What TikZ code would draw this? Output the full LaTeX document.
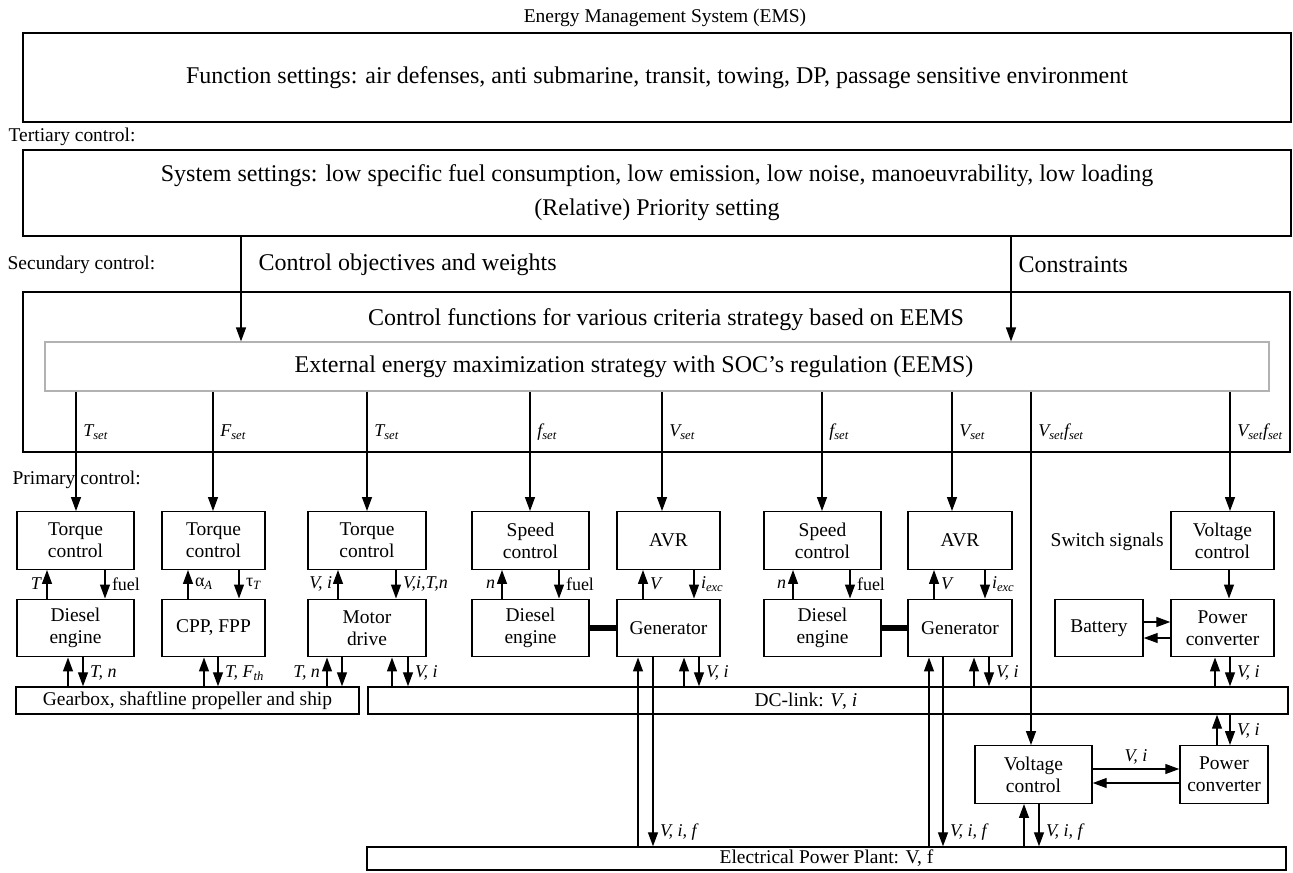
\documentclass[tikz,border=0pt]{standalone}
\usepackage{fontspec}
\setmainfont{Liberation Serif}
\usetikzlibrary{arrows.meta}

\def\pxl{0.75pt}
\newcommand{\fbig}{\fontsize{18}{25.5}\selectfont}
\newcommand{\fsm}{\fontsize{14.6}{16.5}\selectfont}
\newcommand{\sv}[2]{\textit{#1}\textsubscript{\textit{#2}}}

\begin{document}
\begin{tikzpicture}[x=\pxl,y=-\pxl,line width=1pt,>={Triangle[length=10.5pt,width=7.5pt]}]
    \tikzstyle{block}=[draw,line width=1.1pt,rectangle,inner sep=0pt,minimum height=57.5*\pxl,align=center,font=\fsm]
    \tikzstyle{bar}=[draw,line width=1.1pt,rectangle,inner sep=0pt,align=center,font=\fsm]
    \tikzstyle{lbl}=[inner sep=1pt,font=\fontsize{13.5}{15}\selectfont\itshape]
    \tikzstyle{note}=[inner sep=0pt,font=\fsm]

    \useasboundingbox (0,0) rectangle (1293,872);

    \node[note] (title) at (665,18) {Energy Management System (EMS)};
    \node[bar, font=\fbig, minimum width=1268*\pxl, minimum height=89*\pxl] (func) at (657,77.5)
        {Function settings: air defenses, anti submarine, transit, towing, DP, passage sensitive environment};
    \node[note, anchor=west] (tert) at (8,137) {Tertiary control:};
    \node[bar, font=\fbig, minimum width=1268*\pxl, minimum height=86*\pxl] (sys) at (657,193)
        {System settings: low specific fuel consumption, low emission, low noise, manoeuvrability, low loading\\(Relative) Priority setting};
    \node[note, anchor=west] (secu) at (7,265) {Secundary control:};
    \node[note, font=\fbig, anchor=west] (objtxt) at (258,265) {Control objectives and weights};
    \node[note, font=\fbig, anchor=west] (contxt) at (1018,265) {Constraints};
    \node[bar, minimum width=1267*\pxl, minimum height=160*\pxl] (ctrl) at (656.5,372) {};
    \node[note, font=\fbig] (ctrltxt) at (666,320) {Control functions for various criteria strategy based on EEMS};
    \node[bar, draw=black!30, line width=0.9pt, minimum width=1224*\pxl, minimum height=49*\pxl] (eems) at (657,366.5) {};
    \node[note, font=\fbig] (eemstxt) at (634,367) {External energy maximization strategy with SOC's regulation (EEMS)};
    \node[note, anchor=west] (prim) at (12,480) {Primary control:};

    \foreach \name/\x/\w/\txt in {TC-1/75.5/117/{Torque\\control}, TC-2/213.5/103/{Torque\\control}, TC-3/367/118/{Torque\\control}, SC-1/530.5/117/{Speed\\control}, AVR-1/668.5/103/AVR, SC-2/822.5/117/{Speed\\control}, AVR-2/960/104/AVR, VC-1/1222.5/103/{Voltage\\control}}
        \node[block, minimum width=\w*\pxl] (\name) at (\x,540.5) {\txt};

    \foreach \name/\x/\w/\txt in {DE-1/75.5/117/{Diesel\\engine}, CPP/213.5/103/{CPP, FPP}, MD/367/118/{Motor\\drive}, DE-2/530.5/117/{Diesel\\engine}, GEN-1/668.5/103/Generator, DE-3/822.5/117/{Diesel\\engine}, GEN-2/960/104/Generator, BAT/1099/88/Battery, PC-1/1222.5/103/{Power\\converter}}
        \node[block, minimum width=\w*\pxl] (\name) at (\x,628) {\txt};

    \node[note, anchor=west] (switch) at (1050,542) {Switch signals};
    \node[bar, minimum width=343*\pxl, minimum height=27*\pxl] (gear) at (187.5,700.5) {Gearbox, shaftline propeller and ship};
    \node[bar, minimum width=920*\pxl, minimum height=27*\pxl] (dc) at (828,700.5) {};
    \node[note] (dctxt) at (806,701) {DC-link: \textit{V}, \textit{i}};
    \node[block, minimum width=117*\pxl] (VC-2) at (1033.5,774.5) {Voltage\\control};
    \node[block, minimum width=88*\pxl] (PC-2) at (1224,774.5) {Power\\converter};
    \node[bar, minimum width=919*\pxl, minimum height=23*\pxl] (plant) at (826.5,858.5) {Electrical Power Plant: V, f};

    \path (241,0) coordinate (obj) (1011,0) coordinate (con);
    \draw[->] (sys.south -| obj) -- (eems.north -| obj);
    \draw[->] (sys.south -| con) -- (eems.north -| con);

    \foreach \x/\dest/\pos/\lbl in {76/TC-1/0.34/{\sv{T}{set}}, 213/TC-2/0.34/{\sv{F}{set}}, 367/TC-3/0.34/{\sv{T}{set}}, 530/SC-1/0.34/{\sv{f}{set}}, 662/AVR-1/0.34/{\sv{V}{set}}, 822/SC-2/0.34/{\sv{f}{set}}, 952/AVR-2/0.34/{\sv{V}{set}}, 1031/VC-2/0.115/{\sv{V}{set}\sv{f}{set}}, 1230/VC-1/0.34/{\sv{V}{set}\sv{f}{set}}}
    {
        \path (\x,0) coordinate (s);
        \draw[->] (eems.south -| s) -- node[lbl, pos=\pos, anchor=west, xshift=4pt] (set-\x) {\lbl} (\dest.north -| s);
    }

    \foreach \a/\b/\ux/\dx in {TC-1/DE-1/47/105, TC-2/CPP/188/239, TC-3/MD/338/396, SC-1/DE-2/502/559, AVR-1/GEN-1/643/694, SC-2/DE-3/793/850, AVR-2/GEN-2/934/985, DE-1/gear/68/83, CPP/gear/204/218, MD/gear/327/342, MD/dc/392/408, GEN-1/dc/684/699, GEN-2/dc/974/989, PC-1/dc/1215/1230, dc/PC-2/1217/1230, GEN-1/plant/638/653, GEN-2/plant/929/943, VC-2/plant/1024/1039}
    {
        \path (\ux,0) coordinate (u) (\dx,0) coordinate (d);
        \draw[->] (\b.north -| u) -- (\a.south -| u);
        \draw[->] (\a.south -| d) -- (\b.north -| d);
    }

    \path (1229,0) coordinate (vp) (0,622) coordinate (h1) (0,638) coordinate (h2) (0,769) coordinate (h3) (0,783) coordinate (h4);
    \draw[->] (VC-1.south -| vp) -- (PC-1.north -| vp);
    \draw[->] (BAT.east |- h1) -- (PC-1.west |- h1);
    \draw[->] (PC-1.west |- h2) -- (BAT.east |- h2);
    \draw[->] (VC-2.east |- h3) -- node[lbl, above=2pt] (vi-h) {\textit{V}, \textit{i}} (PC-2.west |- h3);
    \draw[->] (PC-2.west |- h4) -- (VC-2.east |- h4);

    \draw[line width=5pt] (DE-2.east) -- (GEN-1.west);
    \draw[line width=5pt] (DE-3.east) -- (GEN-2.west);

    \foreach \i/\x/\y/\anc/\txt in {1/43/584/east/T, 2/110/584/west/\textup{fuel}, 3/193/584/west/{\textup{α}\textsubscript{\textit{A}}}, 4/244/584/west/{\textup{τ}\textsubscript{\textit{T}}}, 5/334/584/east/{V, i}, 6/401/584/west/{V,i,T,n}, 7/497/584/east/n, 8/564/584/west/\textup{fuel}, 9/648/584/west/V, 10/699/584/west/{\sv{i}{exc}}, 11/788/584/east/n, 12/855/584/west/\textup{fuel}, 13/939/584/west/V, 14/990/584/west/{\sv{i}{exc}}, 15/88/673/west/{T, n}, 16/223/673/west/{T, \sv{F}{th}}, 17/322/673/east/{T, n}, 18/413/673/west/{V, i}, 19/704/673/west/{V, i}, 20/994/673/west/{V, i}, 21/1235/673/west/{V, i}, 22/1235/731/west/{V, i}, 23/658/832/west/{V, i, f}, 24/948/832/west/{V, i, f}, 25/1044/832/west/{V, i, f}}
        \node[lbl, anchor=\anc] (l-\i) at (\x,\y) {\txt};
\end{tikzpicture}
\end{document}
